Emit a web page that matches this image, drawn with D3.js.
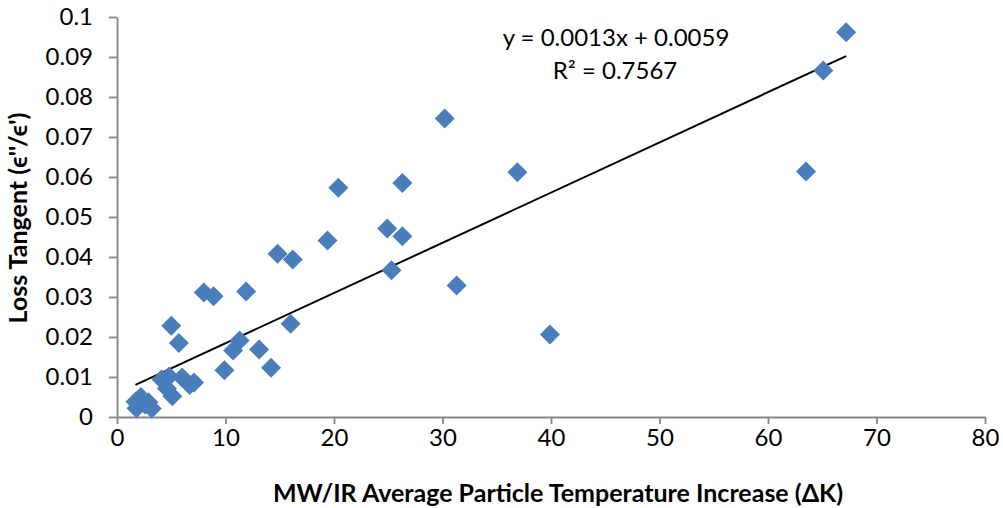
<!DOCTYPE html>
<html><head><meta charset="utf-8">
<script src="https://cdn.jsdelivr.net/npm/d3@7"></script>
<style>
body{margin:0;background:#fff;}
svg{display:block;font-family:Lato,"Open Sans",sans-serif;}
</style></head>
<body><svg id="c" width="1003" height="508"></svg>
<script>
const tempIncrease = [67.2,65.1,63.5,39.9,36.9,31.3,30.2,26.3,26.3,24.9,25.3,20.4,19.4,16.2,14.8,16.0,14.2,13.1,11.9,11.3,10.7,9.9,8.9,8.0,5.0,5.7,6.0,6.7,7.1,4.1,4.6,5.1,4.8,1.7,2.2,1.8,2.6,3.2,2.9];
const lossTangent = [0.0962,0.0866,0.0614,0.0206,0.0612,0.0329,0.0746,0.0585,0.0452,0.0471,0.0367,0.0573,0.0441,0.0394,0.0408,0.0233,0.0123,0.0169,0.0314,0.0191,0.0166,0.0117,0.0302,0.0311,0.0228,0.0185,0.0099,0.0080,0.0086,0.0094,0.0071,0.0052,0.0101,0.0038,0.0050,0.0022,0.0031,0.0021,0.0037];
const xTicks = [0,10,20,30,40,50,60,70,80];
const yTicks = [0,0.01,0.02,0.03,0.04,0.05,0.06,0.07,0.08,0.09,0.1];
const yTickLabels = ["0","0.01","0.02","0.03","0.04","0.05","0.06","0.07","0.08","0.09","0.1"];
// linear trendline (label shows rounded values)
const trendSlope = [0.001255];
const trendIntercept = [0.0059];
const eqLabel = "y = 0.0013x + 0.0059";
const r2Label = "R² = 0.7567";
const xTitle = "MW/IR Average Particle Temperature Increase (ΔK)";
const yTitle = "Loss Tangent (ϵ''/ϵ')";

const svg = d3.select("#c");
const x = d3.scaleLinear().domain([0,80]).range([117,985]);
const y = d3.scaleLinear().domain([0,0.1]).range([417,17]);
const axisColor = "#868686";

const xa = svg.append("g").attr("transform","translate(0,417)")
  .call(d3.axisBottom(x).tickValues(xTicks).tickSize(7).tickSizeOuter(0).tickPadding(5));
const ya = svg.append("g").attr("transform","translate(117,0)")
  .call(d3.axisLeft(y).tickValues(yTicks).tickFormat((d,i)=>yTickLabels[i]).tickSize(8).tickSizeOuter(0).tickPadding(16));
[xa,ya].forEach(g=>{
  g.selectAll("path,line").attr("stroke",axisColor).attr("stroke-width",1.8);
  g.selectAll("text").attr("fill","#000").style("font-size","24px").style("font-family","Lato,sans-serif");
});

const x0=d3.min(tempIncrease), x1=d3.max(tempIncrease);
const s=trendSlope[0], b=trendIntercept[0];
svg.append("line").attr("x1",x(x0)).attr("y1",y(b+s*x0)).attr("x2",x(x1)).attr("y2",y(b+s*x1))
  .attr("stroke","#000").attr("stroke-width",2);

const n = tempIncrease.length;
const diamond = d3.symbol().type(d3.symbolSquare).size(200);
svg.append("g").selectAll("path").data(d3.range(n)).join("path")
  .attr("d",diamond)
  .attr("transform",i=>`translate(${x(tempIncrease[i])},${y(lossTangent[i])}) rotate(45)`)
  .attr("fill","#4a7ebb");

svg.append("text").attr("x",616).attr("y",46).attr("text-anchor","middle").style("font-size","24px").text(eqLabel);
svg.append("text").attr("x",615).attr("y",79).attr("text-anchor","middle").style("font-size","24px").text(r2Label);

svg.append("text").attr("x",558).attr("y",502).attr("text-anchor","middle").style("font-size","25px").style("font-weight","bold").text(xTitle);
svg.append("text").attr("transform","translate(27,218) rotate(-90)").attr("text-anchor","middle").style("font-size","25px").style("font-weight","bold").text(yTitle);
</script></body></html>
